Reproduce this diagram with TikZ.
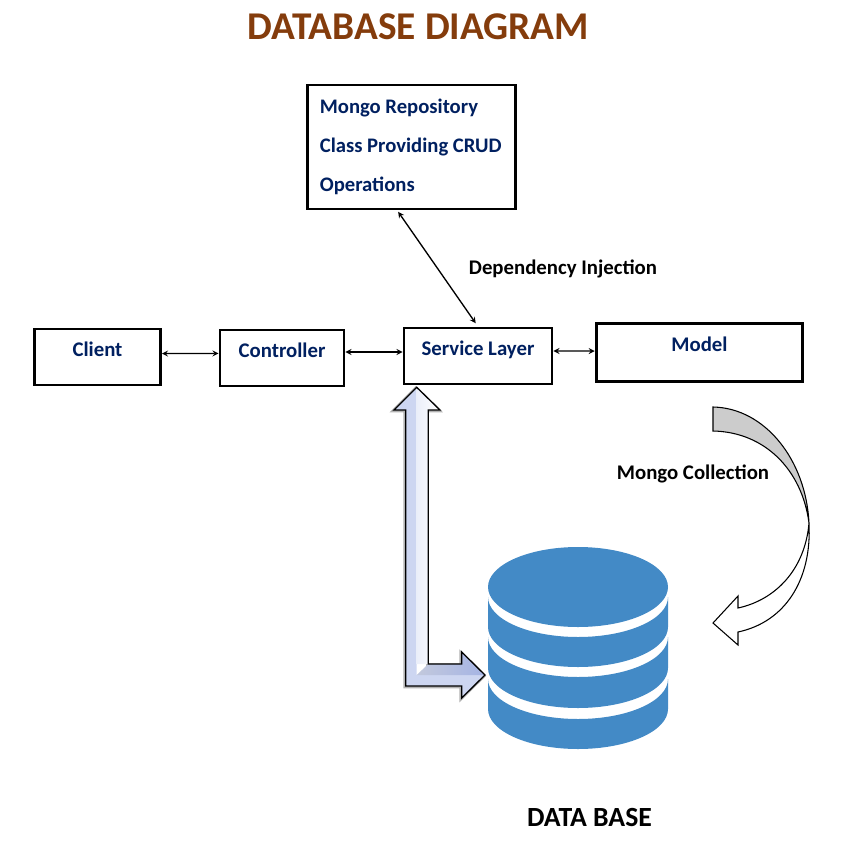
\documentclass[tikz,border=0pt]{standalone}
\usepackage{fontspec}
\setmainfont{Carlito}
\usetikzlibrary{arrows}

\definecolor{titlebrown}{RGB}{132,60,12}
\definecolor{boxnavy}{RGB}{0,32,96}
\definecolor{dbblue}{RGB}{67,138,198}
\definecolor{pipelight}{RGB}{205,214,241}
\definecolor{pipedark}{RGB}{165,180,228}

\begin{document}
\begin{tikzpicture}[x=0.75pt,y=-0.75pt]
    \tikzstyle{box}=[rectangle,draw=black,line width=2.2pt,fill=white,inner sep=0pt]
    \tikzstyle{boxtext}=[text=boxnavy,font=\fontsize{15.6}{18}\selectfont\bfseries,text height=8pt,text depth=9.5pt]
    \tikzstyle{caption}=[text=black,font=\fontsize{15.6}{18}\selectfont\bfseries,inner sep=0pt]
    \tikzstyle{link}=[draw=black,line width=1pt,stealth-stealth]
    \tikzstyle{pipe}=[draw=black,line width=1pt,line join=miter]

    \def\pipeline{(416.7,387.3) -- (440,410) -- (428.3,410) -- (428.3,664) -- (461.7,664) -- (461.7,652) -- (485,675) -- (461.7,698) -- (461.7,686) -- (405.7,686) -- (405.7,410) -- (394,410) -- cycle}

    \useasboundingbox (0,0) rectangle (865,851);

    \node[text=titlebrown,font=\fontsize{29.5}{34}\selectfont\bfseries,inner sep=0pt] (title) at (418.5,27) {DATABASE DIAGRAM};

    \node[box,boxtext,minimum width=94.5pt,minimum height=42pt] (client) at (97.5,357) {Client};
    \node[box,boxtext,minimum width=93pt,minimum height=42pt] (controller) at (282,358) {Controller};
    \node[box,boxtext,minimum width=111pt,minimum height=42pt] (service) at (478,356) {Service Layer};
    \node[box,boxtext,minimum width=155pt,minimum height=44pt] (model) at (699.5,352.5) {Model};
    \node[box,text=boxnavy,font=\fontsize{15.5}{29.25}\selectfont\bfseries,align=flush left,
          minimum width=156.5pt,minimum height=93pt,text width=137.5pt] (repo) at (411.5,147) {Mongo Repository\\Class Providing CRUD\\Operations};

    \node[caption] (inject) at (563,268.5) {Dependency Injection};
    \node[caption] (collection) at (693,474) {Mongo Collection};
    \node[caption,font=\fontsize{20.8}{24}\selectfont\bfseries] (dbname) at (589.5,817) {DATA BASE};

    \path[link] ([yshift=2.6pt]client.east) -- ([yshift=3.4pt]controller.west);
    \path[link] ([yshift=4.5pt]controller.east) -- ([yshift=3pt]service.west);
    \path[link] ([yshift=3.75pt]service.east) -- ([yshift=1.1pt]model.west);
    \path[link,shorten >=3pt] ([xshift=-10pt,yshift=-1pt]repo.south) -- (service.north);

    % data base
    \fill[dbblue] (488,587) arc [start angle=180,end angle=-180,x radius=90,y radius=40];
    \foreach \t/\b in {597/627,637/668,679/709}
        \fill[dbblue] (488,\t) arc [start angle=180,end angle=0,x radius=90,y radius=40]
            -- (668,\b) arc [start angle=0,end angle=180,x radius=90,y radius=40] -- cycle;

    % double arrow
    \path[draw=black!30,line width=2.2pt,xshift=-0.6pt,yshift=-0.6pt] \pipeline;
    \fill[pipelight] (416.7,387.3) -- (394,410) -- (405.7,410) -- (405.7,686) -- (461.7,686) -- (461.7,698) -- (485,675) -- (416.7,675) -- cycle;
    \shade[left color=white!60!pipelight,right color=white] (416.7,387.3) -- (416.7,664) -- (428.3,664) -- (428.3,410) -- (440,410) -- cycle;
    \shade[left color=pipedark!70!gray!60!white,right color=pipedark] (416.7,675) -- (428.3,664) -- (461.7,664) -- (461.7,652) -- (485,675) -- cycle;
    \path[pipe] \pipeline;

    % curved arrow
    \path[draw=black,line width=0.8pt,fill=black!20] (713,407) .. controls (765,408) and (806,460) .. (809,523) .. controls (802,470) and (765,432) .. (713,431) -- cycle;
    \path[draw=black,line width=0.8pt,fill=white] (809,523) .. controls (812,580) and (785,622) .. (738,632) -- (738,645) -- (713,623) -- (738,596) -- (738,608) .. controls (775,600) and (805,570) .. (809,523) -- cycle;
\end{tikzpicture}
\end{document}
